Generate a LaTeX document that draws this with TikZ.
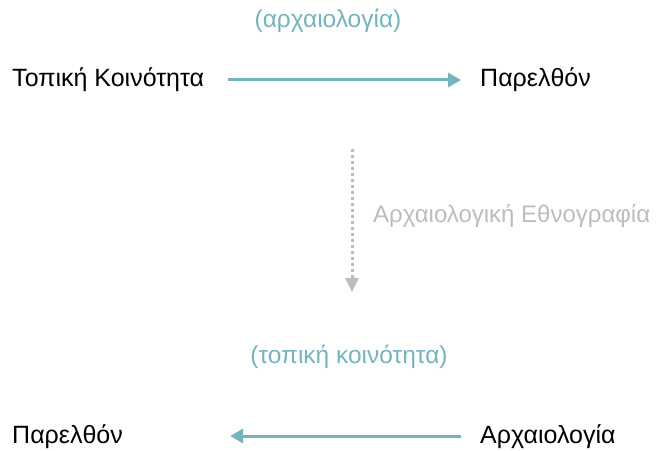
\documentclass[tikz,border=0pt]{standalone}
\usepackage{fontspec}
\setmainfont{Liberation Sans}
\usetikzlibrary{arrows.meta, positioning}
\definecolor{teal1}{HTML}{74B4BF}
\definecolor{gray1}{HTML}{BDBDBD}

\begin{document}
\begin{tikzpicture}[x=1pt, y=1pt,
      term/.style = {anchor=base west, inner sep=0pt, font=\fontsize{25}{30}\selectfont},
      note/.style = {anchor=base, inner sep=0pt, text=teal1,
                     font=\fontsize{24.5}{30}\selectfont},
      link/.style = {draw=teal1, line width=3pt,
                     arrows={-Triangle[length=13pt, width=14pt]}},
      view change/.style = {draw=gray1, line width=3pt, dash pattern=on 3pt off 3pt,
                            arrows={-Triangle[length=14pt, width=13pt]}},
    ]
    \useasboundingbox (0,0) rectangle (658,450);

    %% Upper row
    \node [term] (place) at (12,363) {Τοπική Κοινότητα};
    \node [term] (past) at (480,363) {Παρελθόν};
    \node [note] (arch) at (328,422) {(αρχαιολογία)};
    \draw [link] ([xshift=24pt, yshift=7pt] place.base east)
      -- ([xshift=-19pt, yshift=7pt] past.base west);

    %% Change of view
    \coordinate (from) at (352,301);
    \coordinate (to) at (352,158);
    \draw [view change] (from) -- (to);
    \node [term, text=gray1, font=\fontsize{24}{30}\selectfont] (ethno)
      at (373,227) {Αρχαιολογική Εθνογραφία};

    %% Lower row
    \node [term] (past2) at (12,7) {Παρελθόν};
    \node [term] (archy) at (480,7) {Αρχαιολογία};
    \node [note] (local) at (349,87) {(τοπική κοινότητα)};
    \draw [link] ([xshift=-19pt, yshift=7pt] archy.base west)
      -- ([xshift=107pt, yshift=7pt] past2.base east);
  \end{tikzpicture}
\end{document}
